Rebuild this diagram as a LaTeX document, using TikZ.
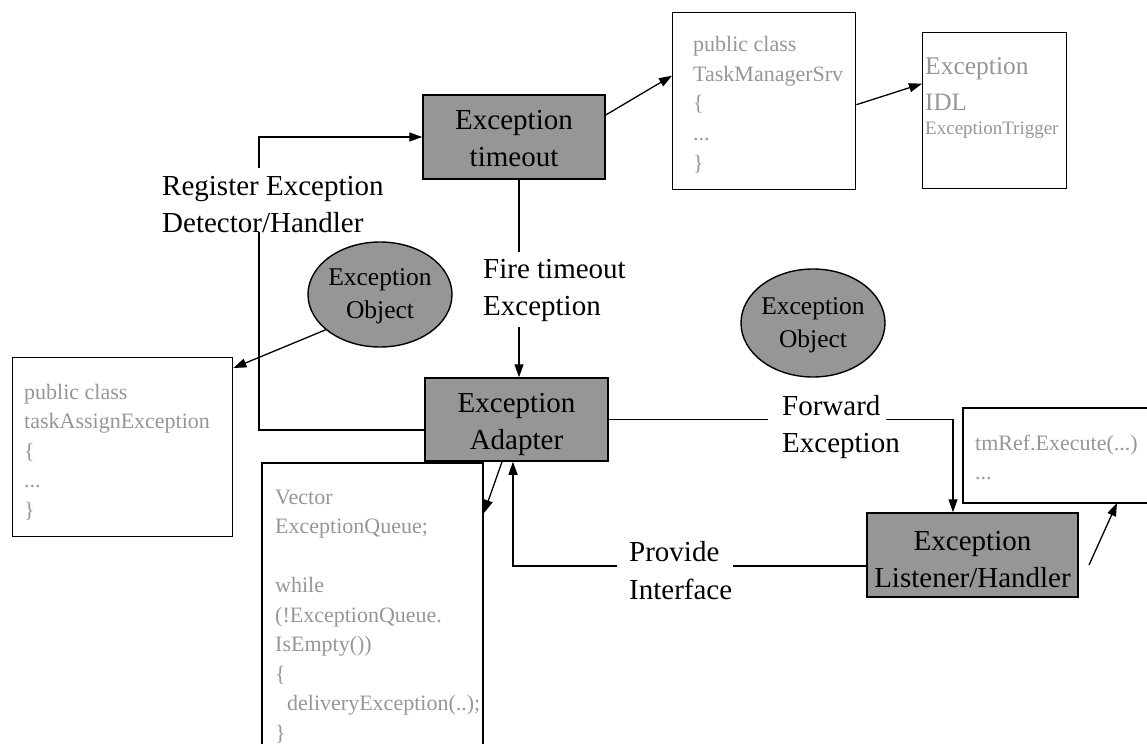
\documentclass[tikz,border=0pt]{standalone}
\usepackage{fontspec}
\setmainfont{Liberation Serif}
\usetikzlibrary{arrows.meta,shapes.geometric}
\definecolor{boxfill}{RGB}{150,150,150}
\definecolor{codegray}{RGB}{150,150,150}
\begin{document}
\begin{tikzpicture}[x=1bp,y=-1bp,
  conn/.style={line width=1.3bp},
  arr/.style={conn,-{Triangle[length=13bp,width=9bp]}},
  darkbox/.style={draw,line width=1.5bp,fill=boxfill,inner sep=0},
  boxtext/.style={align=center,inner sep=0,font=\fontsize{29bp}{37bp}\selectfont},
  codebox/.style={draw,line width=1.4bp,anchor=north west,inner sep=0},
  code/.style={anchor=base west,inner sep=0,align=left,text=codegray,font=\fontsize{22bp}{29.5bp}\selectfont},
  lab/.style={anchor=base west,inner sep=0,align=left,font=\fontsize{29bp}{37.5bp}\selectfont},
  obj/.style={ellipse,draw,line width=1.4bp,fill=boxfill,inner sep=0},
  objtext/.style={align=center,inner sep=0,font=\fontsize{25.5bp}{33bp}\selectfont}
]
\useasboundingbox (0,0) rectangle (1147,744);

% dark boxes
\node[darkbox,minimum width=182bp,minimum height=84bp] (timeout) at (514,137) {};
\node[boxtext] (timeouttxt) at ([yshift=-2bp]timeout.center) {Exception\\timeout};
\node[darkbox,minimum width=183bp,minimum height=83bp] (adapter) at (516.5,419.5) {};
\node[boxtext] (adaptertxt) at ([yshift=-5bp]adapter.center) {Exception\\Adapter};
\node[darkbox,minimum width=211bp,minimum height=84bp] (listener) at (972.5,555) {};
\node[boxtext] (listenertxt) at ([yshift=-5bp]listener.center) {Exception\\Listener/Handler};

% code boxes
\node[codebox,minimum width=220bp,minimum height=179bp] (task) at (12,357) {};
\node[codebox,minimum width=183bp,minimum height=177bp] (tms) at (672,12) {};
\node[codebox,minimum width=144bp,minimum height=156bp] (idl) at (922,32) {};
\draw[line width=1.4bp] (262,746) -- (262,463) -- (483,463) -- (483,746);
\draw[line width=1.4bp] (1148,408) -- (963,408) -- (963,503) -- (1148,503);
\coordinate (v1) at (484,513);
\coordinate (tm2) at (1117,503);

% code texts (anchor = baseline of the last line)
\node[code] (tasktxt) at (24,517) {public class\\taskAssignException\\\{\\...\\\}};
\node[code] (tmstxt) at (693,170) {public class\\TaskManagerSrv\\\{\\...\\\}};
\node[code] (vectxt) at (275,740) {Vector\\ExceptionQueue;\\[29.5bp]while\\(!ExceptionQueue.\\IsEmpty())\\\{\\\hspace*{12bp}deliveryException(..);\\\}};
\node[code] (tmreftxt) at (975,479.5) {tmRef.Execute(...)\\...};
\node[code,font=\fontsize{25.5bp}{30bp}\selectfont] (idl1) at (925,75) {Exception};
\node[code,font=\fontsize{25bp}{30bp}\selectfont] (idl2) at (925,111) {IDL};
\node[code,font=\fontsize{19bp}{24bp}\selectfont] (idl3) at (925,134) {ExceptionTrigger};

% ellipses
\node[obj,minimum width=144bp,minimum height=105bp] (obj1) at (380,294.5) {};
\node[objtext] (obj1txt) at ([yshift=-2bp]obj1.center) {Exception\\Object};
\node[obj,minimum width=144bp,minimum height=108bp] (obj2) at (813,323) {};
\node[objtext] (obj2txt) at ([yshift=-2.5bp]obj2.center) {Exception\\Object};

% labels (anchor = baseline of the last line)
\node[lab] (reg) at (162,232.5) {Register Exception\\Detector/Handler};
\node[lab] (fire) at (483,315.5) {Fire timeout\\Exception};
\node[lab] (fwd) at (782,452.5) {Forward\\Exception};
\node[lab] (prov) at (629,599) {Provide\\Interface};

% connectors
\coordinate (r1) at (259,168);
\coordinate (r2) at (259,232);
\draw[arr] (r1) |- (timeout.west);
\draw[conn] (r2) |- ([yshift=-10.5bp]adapter.west);

\coordinate (f1) at (519,252);
\coordinate (f2) at (519,327);
\draw[conn] (timeout.south -| f1) -- (f1);
\draw[arr] (f2) -- (adapter.north -| f2);

\draw[arr] ([yshift=22bp]timeout.east) -- ([yshift=25.5bp]tms.west);
\draw[arr] ([yshift=-3.5bp]tms.east) -- ([yshift=27bp]idl.west);

\draw[arr] (obj1.213) -- ([yshift=-11bp]task.north east);
\draw[arr] ([xshift=-14.5bp]adapter.south) -- (v1);

\coordinate (p1) at (617,566);
\coordinate (p2) at (733,566);
\draw[arr] (p1) -| ([xshift=-3.5bp]adapter.south);
\draw[conn] (p2) -- (p2 -| listener.west);

\coordinate (q1) at (768,419.5);
\coordinate (q2) at (886,419.5);
\draw[conn] (adapter.east) -- (q1);
\draw[arr] (q2) -| ([xshift=-19.5bp]listener.north);

\coordinate (t1) at (1089,565);
\draw[arr] (t1) -- (tm2);
\end{tikzpicture}
\end{document}
